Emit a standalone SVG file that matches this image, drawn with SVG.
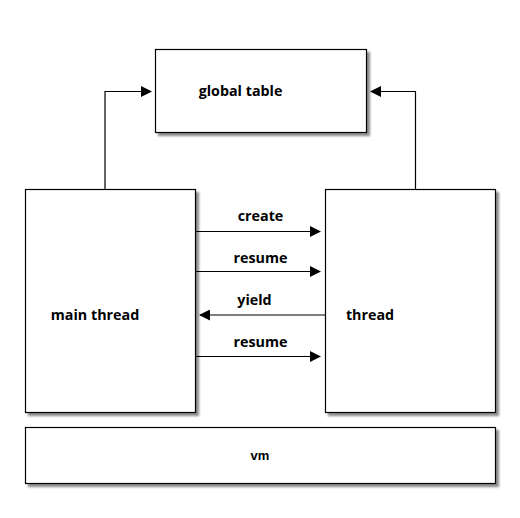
<svg xmlns="http://www.w3.org/2000/svg" width="520" height="518" viewBox="0 0 520 518">
<defs>
<filter id="sh" x="-10%" y="-10%" width="130%" height="130%">
<feDropShadow dx="3" dy="3" stdDeviation="1.2" flood-color="#000" flood-opacity="0.45"/>
</filter>
<marker id="ah" markerWidth="11" markerHeight="11" refX="10" refY="5.5" orient="auto" markerUnits="userSpaceOnUse">
<path d="M0,0 L11,5.5 L0,11 Z" fill="#000"/>
</marker>
<style>
.box{fill:#fff;stroke:#000;stroke-width:1.2;filter:url(#sh)}
.lbl{font-family:"Open Sans","DejaVu Sans",sans-serif;font-weight:bold;font-size:14.3px;fill:#000}
.vm{font-family:"Liberation Sans",Arial,sans-serif;font-weight:bold;font-size:13px;fill:#000}
.c{fill:none;stroke:#000;stroke-width:1.2;marker-end:url(#ah)}
</style>
</defs>
<rect width="520" height="518" fill="#fff"/>
<g id="connectors">
<path class="c" d="M105,189 V91.5 H151"/>
<path class="c" d="M415.5,189 V91.5 H371"/>
<path class="c" d="M195,231.5 H320"/>
<path class="c" d="M195,271.5 H320"/>
<path class="c" d="M325,315 H200"/>
<path class="c" d="M195,356.5 H320"/>
<text class="lbl" x="260.5" y="221" text-anchor="middle">create</text>
<text class="lbl" x="260.5" y="263" text-anchor="middle">resume</text>
<text class="lbl" x="254.5" y="305" text-anchor="middle">yield</text>
<text class="lbl" x="260.5" y="347" text-anchor="middle">resume</text>
</g>
<g id="global_table">
<rect class="box" x="155.5" y="49.5" width="211" height="83"/>
<text class="lbl" x="240.5" y="96" text-anchor="middle">global table</text>
</g>
<g id="main_thread">
<rect class="box" x="25.5" y="189.5" width="170" height="223"/>
<text class="lbl" x="95" y="320" text-anchor="middle">main thread</text>
</g>
<g id="thread">
<rect class="box" x="325.5" y="189.5" width="170" height="223"/>
<text class="lbl" x="370" y="320" text-anchor="middle">thread</text>
</g>
<g id="vm">
<rect class="box" x="25.5" y="427.5" width="470" height="56"/>
<text class="vm" x="260" y="460" text-anchor="middle">vm</text>
</g>
</svg>
